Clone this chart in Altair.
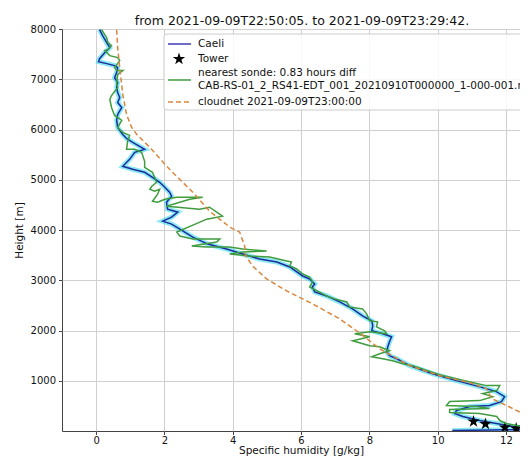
import altair as alt
import pandas as pd

title_text = "from 2021-09-09T22:50:05. to 2021-09-09T23:29:42."

caeli_height = [7986, 7867, 7728, 7628, 7529, 7410, 7351, 7311, 7272, 7232, 7133, 7033, 6934, 6835,
                6736, 6636, 6537, 6438, 6299, 6180, 6041, 5902, 5823, 5744, 5605, 5545, 5406, 5268,
                5208, 5148, 5049, 4950, 4851, 4752, 4672, 4553, 4414, 4355, 4256, 4176, 4117, 4018,
                3859, 3720, 3621, 3522, 3422, 3363, 3264, 3085, 3026, 2926, 2867, 2768, 2688, 2569,
                2430, 2292, 2192, 2093, 1994, 1934, 1875, 1776, 1676, 1577, 1498, 1438, 1300, 1141,
                1002, 883, 784, 684, 585, 506, 486, 407, 347, 288, 208, 149, 89, 50, 30, 10]
caeli_q = [0.10, 0.19, 0.31, 0.40, 0.25, 0.10, 0.07, 0.31, 0.54, 0.63, 0.60, 0.54, 0.63, 0.60,
           0.63, 0.69, 0.63, 0.75, 0.63, 0.60, 0.63, 0.78, 0.89, 1.07, 1.42, 1.13, 0.98, 0.78,
           1.07, 1.42, 1.65, 1.86, 2.01, 2.15, 2.21, 2.06, 2.09, 2.39, 2.21, 1.95, 2.21, 2.45,
           2.83, 3.27, 3.82, 4.29, 4.79, 5.29, 5.67, 6.05, 6.25, 6.40, 6.33, 6.40, 6.75, 7.13,
           7.51, 7.80, 8.07, 8.10, 8.07, 8.39, 8.65, 8.59, 8.54, 8.51, 8.59, 8.80, 9.18, 9.85,
           10.55, 11.22, 11.72, 11.96, 11.87, 11.52, 10.94, 10.55, 10.50, 10.74, 11.22, 11.72, 12.20, 12.61, 12.99, 10.43]

sonde_height = [7986, 7827, 7728, 7668, 7589, 7569, 7470, 7430, 7371, 7232, 7172, 7172, 7093, 6934,
                6835, 6676, 6597, 6438, 6279, 6240, 6180, 6041, 5942, 5882, 5763, 5605, 5605, 5545,
                5367, 5248, 5148, 5049, 4950, 4871, 4811, 4772, 4811, 4712, 4573, 4553, 4613, 4652,
                4652, 4652, 4613, 4474, 4414, 4454, 4276, 4216, 3958, 3879, 3819, 3819, 3760, 3680,
                3660, 3660, 3621, 3581, 3561, 3522, 3482, 3462, 3383, 3363, 3284, 3224, 3125, 3065,
                2966, 2867, 2688, 2629, 2569, 2470, 2430, 2331, 2192, 2172, 2073, 1994, 1934, 1974,
                1934, 1875, 1795, 1696, 1676, 1597, 1538, 1478, 1438, 1399, 1339, 1300, 1121, 1002,
                903, 903, 804, 744, 684, 605, 585, 506, 486, 446, 426, 367, 347, 288, 208, 149, 109, 89, 89]
sonde_q = [0.16, 0.31, 0.34, 0.45, 0.34, 0.25, 0.40, 0.63, 0.69, 0.54, 0.60, 0.78, 0.63, 0.60,
           0.63, 0.45, 0.40, 0.45, 0.54, 0.63, 0.75, 0.63, 0.78, 0.98, 0.92, 0.89, 1.13, 1.33,
           1.42, 1.42, 1.65, 1.71, 1.77, 1.63, 1.57, 1.71, 1.86, 1.80, 1.65, 1.80, 2.01, 2.36,
           2.80, 3.12, 2.74, 2.06, 3.03, 3.32, 3.70, 3.24, 2.36, 2.45, 2.83, 3.62, 3.53, 2.80,
           3.24, 3.91, 4.29, 4.99, 4.29, 3.91, 4.49, 5.08, 5.58, 5.72, 5.67, 5.87, 6.05, 6.25,
           6.34, 6.25, 6.75, 6.98, 7.34, 7.42, 7.80, 7.92, 8.01, 8.24, 8.21, 8.45, 8.51, 8.01,
           7.57, 8.01, 7.51, 8.01, 8.30, 8.59, 8.30, 8.07, 8.39, 8.68, 8.97, 9.27, 10.06, 10.79,
           11.43, 11.82, 11.73, 11.32, 11.61, 11.23, 10.35, 10.26, 11.14, 11.52, 10.35, 10.35, 11.23, 11.73, 11.82, 12.00, 12.31, 12.61, 12.99]

cloudnet_height = [7986, 7628, 7232, 6696, 6299, 6041, 5902, 5645, 5208, 4752, 4375, 4058, 3958,
                   3680, 3482, 3284, 3026, 2787, 2530, 2232, 1954, 1637, 1300, 1101, 962, 843, 645,
                   506, 308, 149]
cloudnet_q = [0.60, 0.63, 0.69, 0.78, 0.89, 1.04, 1.19, 1.57, 2.15, 2.83, 3.32, 3.91, 4.20,
              4.35, 4.38, 4.58, 4.99, 5.58, 6.34, 7.13, 7.71, 8.30, 9.18, 10.06, 10.94, 11.43, 11.58,
              12.02, 12.61, 13.13]

tower_height = [190, 140, 70, 50, 30]
tower_q = [11.05, 11.40, 11.97, 12.30, 12.55]

legend_labels = ["Caeli", "Tower",
                 "nearest sonde: 0.83 hours diff\nCAB-RS-01_2_RS41-EDT_001_20210910T000000_1-000-001.nc",
                 "cloudnet 2021-09-09T23:00:00"]

x_ticks = [0, 2, 4, 6, 8, 10, 12]
y_ticks = [1000, 2000, 3000, 4000, 5000, 6000, 7000, 8000]

BLUE = "#1c2c9c"
LEG_BLUE = "#3c3cb4"
CYAN = "#19d6ec"
GREEN = "#3f9c3f"
ORANGE = "#d8883e"
FONT = "DejaVu Sans"
STAR = ("M0,-1L0.2245,-0.309L0.951,-0.309L0.363,0.118L0.588,0.809L0,0.382"
        "L-0.588,0.809L-0.363,0.118L-0.951,-0.309L-0.2245,-0.309Z")

W, H = 460, 402


def frame(h, q):
    return pd.DataFrame({"h": h, "q": q, "i": list(range(len(h)))})


xenc = alt.X("q:Q", scale=alt.Scale(domain=[-1, -1 + W / 34.15], nice=False, zero=False),
             axis=alt.Axis(values=x_ticks, title="Specific humidity [g/kg]", titleX=239, titleY=14.5,
                           titleBaseline="top", labelPadding=1))
yenc = alt.Y("h:Q", scale=alt.Scale(domain=[0, 8000], nice=False, zero=False),
             axis=alt.Axis(values=y_ticks, format="d", title="Height [m]", labelPadding=3))

caeli_df = frame(caeli_height, caeli_q)
band = alt.Chart(caeli_df).mark_line(color=CYAN, strokeWidth=5, opacity=0.5, clip=True).encode(
    x=xenc, y=yenc, order="i:Q")
caeli = alt.Chart(caeli_df).mark_line(color=BLUE, strokeWidth=1.5, clip=True).encode(
    x=xenc, y=yenc, order="i:Q")
tower = alt.Chart(frame(tower_height, tower_q)).mark_point(
    shape=STAR, filled=True, color="black", size=170, opacity=1, clip=True).encode(x=xenc, y=yenc)
sonde = alt.Chart(frame(sonde_height, sonde_q)).mark_line(color=GREEN, strokeWidth=1.5, clip=True).encode(
    x=xenc, y=yenc, order="i:Q")
cloud = alt.Chart(frame(cloudnet_height, cloudnet_q)).mark_line(
    color=ORANGE, strokeWidth=1.5, strokeDash=[5, 3], clip=True).encode(x=xenc, y=yenc, order="i:Q")

one = pd.DataFrame({"a": [0]})
leg_box = alt.Chart(one).mark_rect(fill="white", fillOpacity=0.85, stroke="#cccccc", strokeWidth=1,
                                   cornerRadius=3, clip=True).encode(
    x=alt.value(102), x2=alt.value(700), y=alt.value(5), y2=alt.value(81))
leg_blue = alt.Chart(one).mark_rule(color=LEG_BLUE, strokeWidth=1.5, clip=True).encode(
    x=alt.value(106), x2=alt.value(129), y=alt.value(15))
leg_star = alt.Chart(one).mark_point(shape=STAR, filled=True, color="black", size=170, opacity=1,
                                     clip=True).encode(x=alt.value(117), y=alt.value(30))
leg_green = alt.Chart(one).mark_rule(color=GREEN, strokeWidth=1.5, clip=True).encode(
    x=alt.value(106), x2=alt.value(129), y=alt.value(51))
leg_orange = alt.Chart(one).mark_rule(color=ORANGE, strokeWidth=1.5, strokeDash=[5, 3], clip=True).encode(
    x=alt.value(106), x2=alt.value(129), y=alt.value(73))

text_style = dict(font=FONT, fontSize=10.5, color="#111111", align="left", baseline="middle", clip=True)
leg_t1 = alt.Chart(one).mark_text(**text_style).encode(x=alt.value(136), y=alt.value(15), text=alt.value(legend_labels[0]))
leg_t2 = alt.Chart(one).mark_text(**text_style).encode(x=alt.value(136), y=alt.value(30), text=alt.value(legend_labels[1]))
leg_t3 = alt.Chart(one).mark_text(lineBreak="\n", lineHeight=13, **text_style).encode(
    x=alt.value(136), y=alt.value(44), text=alt.value(legend_labels[2]))
leg_t4 = alt.Chart(one).mark_text(**text_style).encode(x=alt.value(136), y=alt.value(73), text=alt.value(legend_labels[3]))

chart = alt.layer(band, caeli, tower, sonde, cloud, leg_box, leg_blue, leg_star, leg_green, leg_orange,
                  leg_t1, leg_t2, leg_t3, leg_t4).properties(
    width=W, height=H,
    title=alt.TitleParams(text=title_text, font=FONT, fontSize=12.5, fontWeight="normal",
                          anchor="middle", dx=10, dy=3, offset=0, color="#111111"),
    autosize=alt.AutoSizeParams(type="none"),
    padding={"left": 54, "top": 21, "right": -2, "bottom": 25},
).configure_view(stroke="#444444", strokeWidth=1).configure_axis(
    labelFont=FONT, labelFontSize=10, labelColor="#111111", titleFont=FONT, titleFontSize=10.5,
    titleFontWeight="normal", titleColor="#111111", domain=False, tickColor="#444444", tickSize=3.5,
    gridColor="#d0d0d0", gridWidth=1, grid=True,
).configure_axisY(titlePadding=6)

chart.save("out.html", embed_options={"renderer": "svg", "actions": False})
